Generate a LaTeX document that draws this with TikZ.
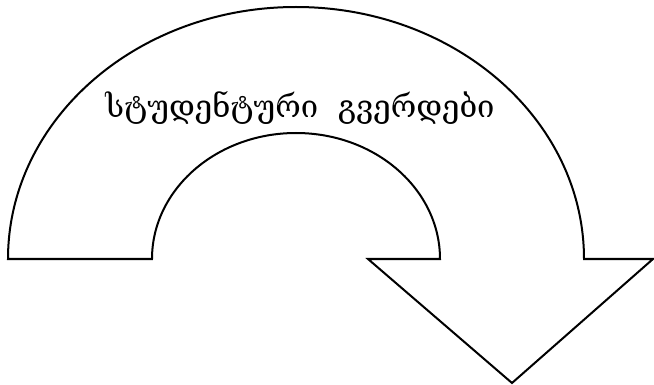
\documentclass[tikz,border=0pt]{standalone}
\usepackage{fontspec}
\newfontfamily\geofont[Script=Georgian]{DejaVu Serif}
\begin{document}
\begin{tikzpicture}[x=1pt,y=-1pt,
  shapeline/.style={draw=black,line width=2pt,line join=miter,fill=white},
  geotext/.style={font=\geofont\fontsize{31}{36}\selectfont,inner sep=0pt}]
\useasboundingbox (0,0) rectangle (654,385);
\draw[shapeline] (8,259) arc[start angle=180,end angle=0,x radius=288,y radius=-252]
  -- (653,259) -- (512,383) -- (368,259) -- (440,259)
  arc[start angle=0,end angle=180,x radius=144,y radius=-126] -- cycle;
\node[geotext] (label) at (300,108) {სტუდენტური\ \ გვერდები};
\end{tikzpicture}
\end{document}
